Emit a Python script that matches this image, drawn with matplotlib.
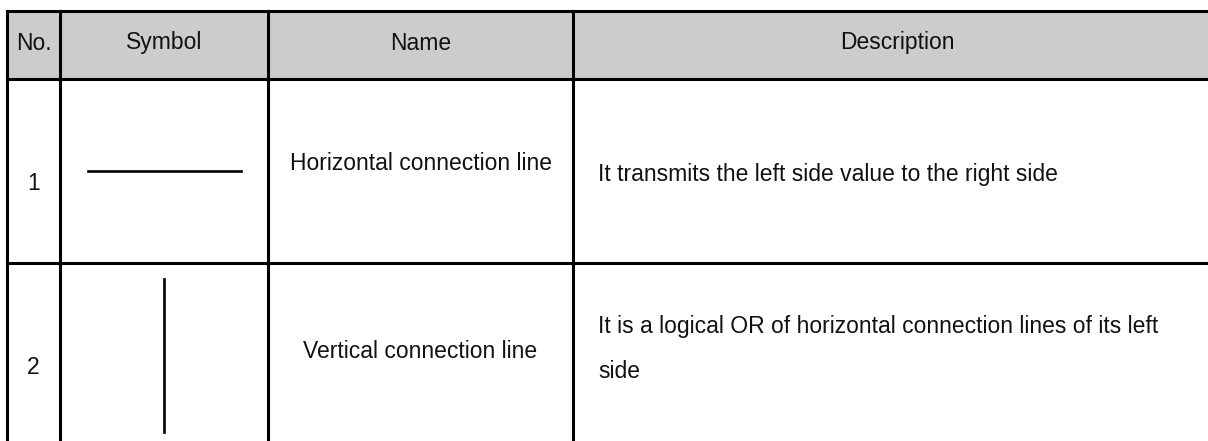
"""Ladder symbol reference table: No. / Symbol / Name / Description."""

import matplotlib
matplotlib.use("Agg")
import matplotlib.pyplot as plt
from matplotlib.patches import Rectangle

HEADERS = ["No.", "Symbol", "Name", "Description"]
NUMBERS = ["1", "2"]
SYMBOLS = ["horizontal", "vertical"]
NAMES = ["Horizontal connection line", "Vertical connection line"]
DESCRIPTIONS = [
    ["It transmits the left side value to the right side"],
    ["It is a logical OR of horizontal connection lines of its left", "side"],
]

W, H = 1208, 441
COL_EDGES = [7, 60, 268, 573, 1221]
ROW_EDGES = [11, 78.5, 263, 470]
HEADER_GRAY = "#cccccc"
FONT = "Liberation Sans"
FS = 16.5
BORDER_LW = 2.2
SYMBOL_LW = 1.9

fig = plt.figure(figsize=(W / 100, H / 100), dpi=100)
ax = fig.add_axes([0, 0, 1, 1])
ax.set_xlim(0, W)
ax.set_ylim(H, 0)
ax.axis("off")

# header band
ax.add_patch(Rectangle((COL_EDGES[0], ROW_EDGES[0]), COL_EDGES[-1] - COL_EDGES[0],
                       ROW_EDGES[1] - ROW_EDGES[0], facecolor=HEADER_GRAY,
                       edgecolor="none", zorder=0))

# grid lines
for y in ROW_EDGES[:-1]:
    ax.plot([COL_EDGES[0], COL_EDGES[-1]], [y, y], color="black", lw=BORDER_LW,
            solid_capstyle="projecting", zorder=2)
for x in COL_EDGES:
    ax.plot([x, x], [ROW_EDGES[0], ROW_EDGES[-1]], color="black", lw=BORDER_LW,
            solid_capstyle="projecting", zorder=2)

txt = dict(fontfamily=FONT, fontsize=FS, color="#111111")

# header texts
header_y = 43
for i, label in enumerate(HEADERS):
    cx = (COL_EDGES[i] + COL_EDGES[i + 1]) / 2
    ax.text(cx, header_y, label, ha="center", va="center", **txt)

# body rows
num_y = [183, 367]
name_y = [163, 351]
desc_y = [175, 326]
line_gap = 46
desc_x = 598
for r in range(len(NUMBERS)):
    ax.text((COL_EDGES[0] + COL_EDGES[1]) / 2, num_y[r], NUMBERS[r],
            ha="center", va="center", **txt)
    ax.text((COL_EDGES[2] + COL_EDGES[3]) / 2, name_y[r], NAMES[r],
            ha="center", va="center", **txt)
    for k, line in enumerate(DESCRIPTIONS[r]):
        ax.text(desc_x, desc_y[r] + k * line_gap, line, ha="left", va="center", **txt)

    sym_cx = (COL_EDGES[1] + COL_EDGES[2]) / 2
    if SYMBOLS[r] == "horizontal":
        ax.plot([88, 241], [171, 171], color="black", lw=SYMBOL_LW, zorder=3)
    else:
        ax.plot([sym_cx, sym_cx], [279, 432], color="black", lw=SYMBOL_LW, zorder=3)

fig.savefig("out.png", dpi=100, facecolor="white")
